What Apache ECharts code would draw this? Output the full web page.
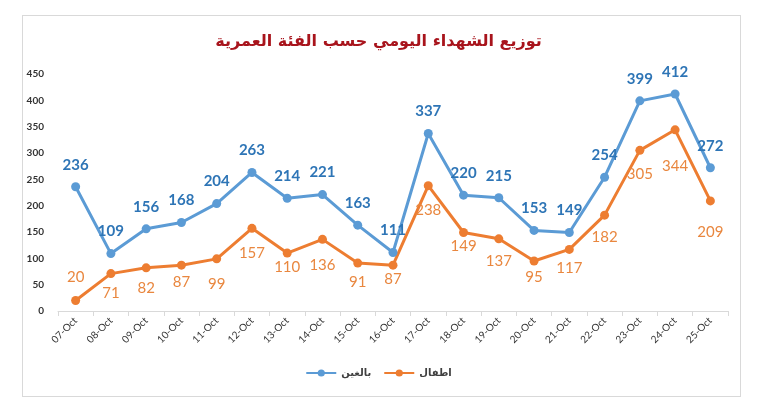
<!DOCTYPE html>
<html>
<head>
<meta charset="utf-8">
<script src="https://cdn.jsdelivr.net/npm/echarts@6/dist/echarts.min.js"></script>
<style>
html,body{margin:0;padding:0;background:#fff;}
#frame{position:absolute;left:22px;top:15px;width:719px;height:382px;border:1px solid #D9D9D9;box-sizing:border-box;}
#chart{position:absolute;left:0;top:0;width:757px;height:411px;}
</style>
</head>
<body>
<div id="frame"></div>
<div id="chart"></div>
<script>
const titleText = 'توزيع الشهداء اليومي حسب الفئة العمرية';
const categories = ['07-Oct','08-Oct','09-Oct','10-Oct','11-Oct','12-Oct','13-Oct','14-Oct','15-Oct','16-Oct','17-Oct','18-Oct','19-Oct','20-Oct','21-Oct','22-Oct','23-Oct','24-Oct','25-Oct'];
const adultsName = 'بالغين';
const childrenName = 'اطفال';
const adults = [236,109,156,168,204,263,214,221,163,111,337,220,215,153,149,254,399,412,272];
const children = [20,71,82,87,99,157,110,136,91,87,238,149,137,95,117,182,305,344,209];
const yTicks = [0,50,100,150,200,250,300,350,400,450];

// label vertical offsets (style only) for the children series, relative to default bottom placement
const childLabelDy = [-43,0,0,-3,5,5,-6,6,-1,-6,5,-6,2,-4,-1,2,4,16,11];

const chart = echarts.init(document.getElementById('chart'), null, {renderer:'canvas'});
const font = 'Lato, "Open Sans", sans-serif';

const childData = children.map((v,i)=>({
  value:v,
  label:{offset:[0, childLabelDy[i]]}
}));

chart.setOption({
  animation:false,
  backgroundColor:'transparent',
  title:{
    text:titleText, left:'center', top:29,
    textStyle:{color:'#A8141C', fontSize:16, fontWeight:'bold', fontFamily:'"DejaVu Sans", "Noto Sans", sans-serif'}
  },
  legend:{
    bottom:28, left:'center', itemGap:12, itemWidth:30, itemHeight:9,
    textStyle:{color:'#404040', fontSize:10, fontWeight:'bold', fontFamily:'"DejaVu Sans", sans-serif'},
    data:[adultsName, childrenName]
  },
  grid:{left:58, right:29, top:74, bottom:100, containLabel:false},
  xAxis:{
    type:'category', data:categories, boundaryGap:true,
    axisLine:{lineStyle:{color:'#D9D9D9'}},
    axisTick:{show:true, lineStyle:{color:'#D9D9D9'}, length:5},
    axisLabel:{rotate:45, color:'#333333', fontSize:10, fontFamily:font, margin:8}
  },
  yAxis:{
    type:'value', min:yTicks[0], max:yTicks[yTicks.length-1], interval:50,
    splitLine:{show:false},
    axisLine:{show:false}, axisTick:{show:false},
    axisLabel:{color:'#333333', fontSize:10, fontWeight:'bold', fontFamily:font, margin:14}
  },
  series:[
    {
      name:adultsName, type:'line', data:adults,
      symbol:'circle', symbolSize:9,
      lineStyle:{color:'#5B9BD5', width:3},
      itemStyle:{color:'#5B9BD5'},
      label:{show:true, position:'top', distance:10, color:'#2E75B6', fontSize:15, fontWeight:'bold', fontFamily:font}
    },
    {
      name:childrenName, type:'line', data:childData,
      symbol:'circle', symbolSize:9,
      lineStyle:{color:'#ED7D31', width:3},
      itemStyle:{color:'#ED7D31'},
      label:{show:true, position:'bottom', distance:8, color:'#E9873F', fontSize:15, fontFamily:font}
    }
  ]
});
</script>
</body>
</html>
